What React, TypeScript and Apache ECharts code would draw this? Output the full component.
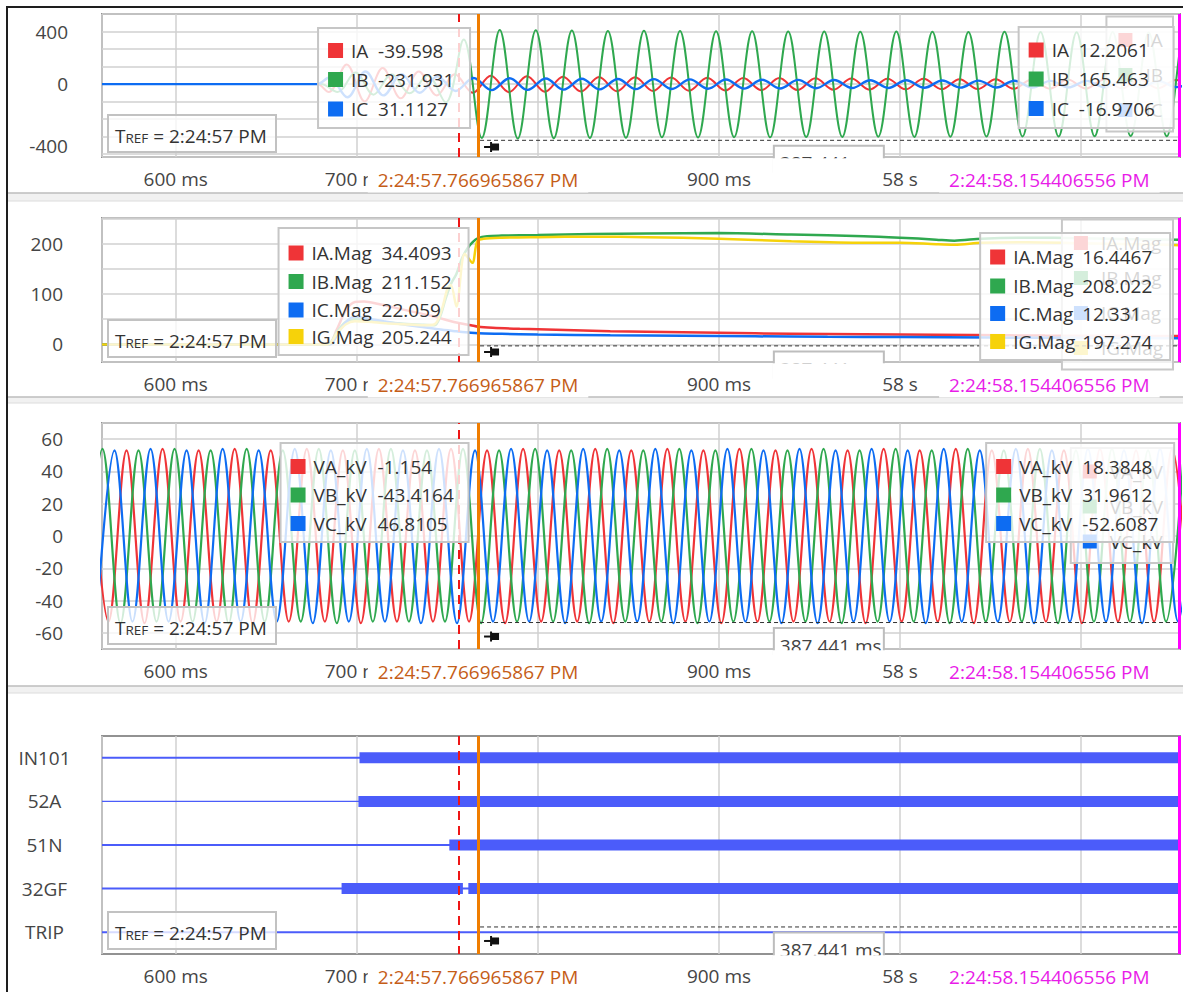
import React, { useEffect, useRef } from 'react';
import * as echarts from 'echarts';

// ---------------- time axis (ms after 2:24:57 PM) ----------------
const X_MIN = 559.3;
const X_MAX = 1154.6;
const X_TICK_VALUES = [600, 700, 800, 900, 1000, 1100];
// 800 ms and 1100 ms are hidden under the cursor time labels in the reference
const X_TICK_LABELS = ['600 ms', '700 ms', '', '900 ms', '58 s', ''];

// cursors
const CURSOR_RED_MS = 756.4;
const CURSOR_ORANGE_MS = 766.966;
const CURSOR_MAGENTA_MS = 1154.406;
const CURSOR_ORANGE_LABEL = '2:24:57.766965867 PM';
const CURSOR_MAGENTA_LABEL = '2:24:58.154406556 PM';
const DELTA_LABEL = '387.441 ms';
const TREF_TIME = '2:24:57 PM';
// level (in each panel's units) of the dashed measurement line
const MEASURE_LEVELS = [-428, -3, -53.6, 3.88];

// ---------------- y axes ----------------
const Y1_TICK_VALUES = [400, 0, -400];
const Y1_TICK_LABELS = ['400', '0', '-400'];
const Y2_TICK_VALUES = [200, 100, 0];
const Y2_TICK_LABELS = ['200', '100', '0'];
const Y3_TICK_VALUES = [60, 40, 20, 0, -20, -40, -60];
const Y3_TICK_LABELS = ['60', '40', '20', '0', '-20', '-40', '-60'];
const DIGITAL_NAMES = ['IN101', '52A', '51N', '32GF', 'TRIP'];

// ---------------- waveforms: successive half-cycle extrema ----------------
const HALF_CYCLE_MS = 9.955;

// currents (A) – start of conduction, first extremum time, extrema values
const IA_START = 678;
const IA_T0 = 684.46;
const IA_EXT = [
  -60, 150, -132, 122, -108, 96, -86, 76, -66, 63,
  -61, 60, -58, 57, -56, 55, -54, 53, -52, 51,
  -50, 49, -48, 47, -46, 46, -45, 44, -43, 43,
  -42, 41, -40, 40, -39, 38, -38, 37, -36, 36,
  -35, 35, -34, 34, -33, 33, -32, 32, -31,
];
const IB_START = 680;
const IB_T0 = 689.35;
const IB_EXT = [
  -60, 88, -80, 75, -70, 65, -140, 340, -410, 412,
  -415, 410, -412, 408, -410, 405, -408, 406, -405, 404,
  -407, 403, -404, 402, -405, 400, -403, 401, -402, 399,
  -400, 400, -402, 398, -400, 397, -399, 398, -398, 396,
  -399, 395, -397, 396, -396, 394, -397, 395, -395,
];
const IC_START = 678;
const IC_T0 = 684.86;
const IC_EXT = [
  50, -100, 96, -86, 76, -66, 58, -52, 47, -46,
  45, -44, 43, -42, 41, -40, 39, -38, 38, -37,
  36, -35, 35, -34, 33, -33, 32, -31, 31, -30,
  30, -29, 29, -28, 28, -27, 27, -26, 26, -26,
  25, -25, 25, -24, 24, -24, 23, -23, 23,
];

// voltages (kV)
const VA_T0 = 552.93;
const VA_EXT = [
  54, -53, 53, -54, 54, -53, 53, -53, 54, -54, 53, -53, 54, -53, 53, -54, 54, -53, 53, -53,
  54, -53, 53, -54, 54, -53, 53, -53, 54, -54, 53, -53, 54, -53, 53, -54, 54, -53, 53, -53,
  54, -53, 53, -54, 54, -53, 53, -53, 54, -54, 53, -53, 54, -53, 53, -54, 54, -53, 53, -53,
  54, -53,
];
const VB_T0 = 549.6;
const VB_EXT = [
  -53, 54, -54, 53, -53, 54, -53, 53, -54, 54, -53, 53, -53, 54, -54, 53, -53, 54, -53, 53,
  -53, 54, -54, 53, -53, 54, -53, 53, -54, 54, -53, 53, -53, 54, -54, 53, -53, 54, -53, 53,
  -53, 54, -54, 53, -53, 54, -53, 53, -54, 54, -53, 53, -53, 54, -54, 53, -53, 54, -53, 53,
  -53, 54,
];
const VC_T0 = 556.24;
const VC_EXT = [
  -54, 53, -53, 54, -53, 53, -54, 54, -53, 53, -53, 54, -54, 53, -53, 54, -53, 53, -54, 54,
  -54, 53, -53, 54, -53, 53, -54, 54, -53, 53, -53, 54, -54, 53, -53, 54, -53, 53, -54, 54,
  -54, 53, -53, 54, -53, 53, -54, 54, -53, 53, -53, 54, -54, 53, -53, 54, -53, 53, -54, 54,
  -53, 53,
];

// ---------------- magnitudes (A) ----------------
const IA_MAG = [
  [559.3, 0], [684, 0], [689, 30], [694, 68], [699, 84], [704, 85], [712, 80], [722, 72], [732, 64],
  [742, 56], [750, 48], [757, 42], [763, 38], [767, 35], [775, 33], [790, 31], [810, 29], [840, 26],
  [880, 24], [920, 22], [960, 20.5], [1000, 19.5], [1040, 18.5], [1080, 17.5], [1120, 17], [1154.6, 16.4],
];
const IB_MAG = [
  [559.3, 0], [684, 0], [689, 25], [694, 45], [699, 50], [706, 48], [716, 44], [726, 41], [736, 39],
  [743, 38], [746, 55], [749, 90], [752, 120], [755, 140], [758, 170], [761, 190], [764, 203], [767, 211],
  [772, 215], [780, 216], [800, 217], [830, 219], [860, 220], [900, 221], [940, 218], [980, 215],
  [1000, 212], [1020, 208], [1030, 206], [1045, 210], [1070, 212], [1100, 211], [1130, 209], [1154.6, 208],
];
const IC_MAG = [
  [559.3, 0], [685, 0], [690, 25], [695, 48], [699, 55], [705, 52], [715, 46], [725, 40], [735, 35],
  [745, 30], [755, 26], [763, 23], [767, 22], [780, 21], [800, 19.5], [840, 18], [880, 17], [920, 16],
  [960, 15], [1000, 14.5], [1050, 13.5], [1100, 13], [1154.6, 12.3],
];
const IG_MAG = [
  [559.3, 0], [684, 0], [689, 22], [694, 40], [699, 46], [706, 45], [716, 42], [726, 40], [736, 38],
  [743, 40], [747, 70], [750, 110], [752, 118], [755, 75], [759.6, 180], [763.8, 162], [766.5, 205],
  [770, 210], [780, 212], [800, 213], [830, 214], [860, 213], [900, 210], [940, 205], [980, 202],
  [1000, 202], [1020, 199], [1030, 198], [1045, 202], [1070, 203], [1100, 201], [1130, 199], [1154.6, 197],
];

// ---------------- digital channels: asserted intervals (ms) ----------------
const IN101_ON = [[701.5, 1154.6]];
const A52_ON = [[700.9, 1154.6]];
const N51_ON = [[751.1, 1154.6]];
const GF32_ON = [[691.6, 758.6], [761.6, 1154.6]];
const TRIP_ON: number[][] = [];

// ---------------- cursor read-outs ----------------
const P1_NAMES = ['IA', 'IB', 'IC'];
const P1_LEFT_VALUES = ['-39.598', '-231.931', '31.1127'];
const P1_RIGHT_VALUES = ['12.2061', '165.463', '-16.9706'];
const P2_NAMES = ['IA.Mag', 'IB.Mag', 'IC.Mag', 'IG.Mag'];
const P2_LEFT_VALUES = ['34.4093', '211.152', '22.059', '205.244'];
const P2_RIGHT_VALUES = ['16.4467', '208.022', '12.331', '197.274'];
const P3_NAMES = ['VA_kV', 'VB_kV', 'VC_kV'];
const P3_LEFT_VALUES = ['-1.154', '-43.4164', '46.8105'];
const P3_RIGHT_VALUES = ['18.3848', '31.9612', '-52.6087'];

// ---------------- styling ----------------
const FONT = '"Open Sans", "Noto Sans", sans-serif';
const RED = '#ef3437';
const GREEN = '#2fa84f';
const BLUE = '#0d6cf2';
const YELLOW = '#f6d20a';
const DIGI = '#4b5cfa';
const GRID_LEFT = 102;
const GRID_WIDTH = 1079;
const GRIDS = [
  { top: 14, height: 143 },
  { top: 218, height: 144 },
  { top: 423, height: 226 },
  { top: 736, height: 218 },
];
const SEPARATORS = [[193, 201], [397, 403], [686, 693]];

function fmtFrom(ticks: number[], labels: string[]) {
  return (v: number) => {
    const i = ticks.findIndex((t) => Math.abs(t - v) < 1e-6);
    return i >= 0 ? labels[i] : '';
  };
}

function wave(start: number | null, t0: number, ext: number[]) {
  const pts: number[][] = [];
  if (start != null) {
    pts.push([X_MIN, 0]);
    pts.push([start, 0]);
  }
  ext.forEach((v, k) => pts.push([t0 + k * HALF_CYCLE_MS, v]));
  return pts;
}

const cursorMarkLine = {
  silent: true,
  symbol: ['none', 'none'],
  label: { show: false },
  animation: false,
  data: [
    { xAxis: CURSOR_RED_MS, lineStyle: { color: '#ee1616', width: 2, type: [9, 6] } },
    { xAxis: CURSOR_ORANGE_MS, lineStyle: { color: '#f07d00', width: 3, type: 'solid' } },
    { xAxis: CURSOR_MAGENTA_MS, lineStyle: { color: '#ff00ff', width: 3, type: 'solid' } },
  ],
};

function lineSeries(name: string, grid: number, data: any[], color: string, width: number, smooth: number, withCursors = false) {
  const s: any = {
    name,
    type: 'line',
    xAxisIndex: grid,
    yAxisIndex: grid,
    data,
    showSymbol: false,
    symbol: 'none',
    smooth,
    color,
    itemStyle: { color },
    lineStyle: { color, width },
    emphasis: { disabled: true },
    silent: true,
    animation: false,
  };
  if (withCursors) s.markLine = cursorMarkLine;
  return s;
}

function buildOption() {
  const axisLabelBase = { fontSize: 19, color: '#454545', fontFamily: FONT };
  const xAxis = GRIDS.map((_, i) => ({
    type: 'value',
    gridIndex: i,
    min: X_MIN,
    max: X_MAX,
    minInterval: 100,
    maxInterval: 100,
    splitNumber: 6,
    axisLine: { show: false },
    axisTick: { show: false },
    splitLine: { show: true, lineStyle: { color: '#d0d0d0', width: 1.5 } },
    axisLabel: { ...axisLabelBase, margin: 12, formatter: fmtFrom(X_TICK_VALUES, X_TICK_LABELS) },
  }));
  const ySplit = { show: true, lineStyle: { color: '#d0d0d0', width: 1.5 } };
  const yAxis = [
    {
      type: 'value', gridIndex: 0, min: -555, max: 534, minInterval: 400 / 3, maxInterval: 400 / 3, splitNumber: 8,
      axisLine: { show: false }, axisTick: { show: false }, splitLine: ySplit,
      axisLabel: {
        ...axisLabelBase, margin: 34,
        formatter: (v: number) => {
          const s = fmtFrom(Y1_TICK_VALUES, Y1_TICK_LABELS)(v);
          return v < -1 && s ? '{low|' + s + '}' : s;
        },
        rich: { low: { ...axisLabelBase, padding: [18, 0, 0, 0] } },
      },
    },
    {
      type: 'value', gridIndex: 1, min: -35, max: 251, minInterval: 50, maxInterval: 50, splitNumber: 6,
      axisLine: { show: false }, axisTick: { show: false }, splitLine: ySplit,
      axisLabel: { ...axisLabelBase, margin: 39, formatter: fmtFrom(Y2_TICK_VALUES, Y2_TICK_LABELS) },
    },
    {
      type: 'value', gridIndex: 2, min: -70, max: 70, minInterval: 20, maxInterval: 20, splitNumber: 7,
      axisLine: { show: false }, axisTick: { show: false }, splitLine: ySplit,
      axisLabel: { ...axisLabelBase, margin: 39, formatter: fmtFrom(Y3_TICK_VALUES, Y3_TICK_LABELS) },
    },
    {
      type: 'value', gridIndex: 3, min: -0.5, max: 4.5, minInterval: 1, maxInterval: 1, splitNumber: 5, inverse: true,
      axisLine: { show: false }, axisTick: { show: false }, splitLine: { show: false },
      axisLabel: {
        ...axisLabelBase, margin: 57.5, align: 'center',
        formatter: fmtFrom(DIGITAL_NAMES.map((_, i) => i), DIGITAL_NAMES),
      },
    },
  ];

  const series: any[] = [
    lineSeries('IA', 0, wave(IA_START, IA_T0, IA_EXT), RED, 2, 0.36, true),
    lineSeries('IB', 0, wave(IB_START, IB_T0, IB_EXT), GREEN, 2, 0.36),
    lineSeries('IC', 0, wave(IC_START, IC_T0, IC_EXT), BLUE, 2.4, 0.36),
    lineSeries('IA.Mag', 1, IA_MAG, RED, 2.5, 0.3, true),
    lineSeries('IB.Mag', 1, IB_MAG, GREEN, 2.5, 0.3),
    lineSeries('IC.Mag', 1, IC_MAG, BLUE, 2.5, 0.3),
    lineSeries('IG.Mag', 1, IG_MAG, YELLOW, 2.5, 0.3),
    lineSeries('VA_kV', 2, wave(null, VA_T0, VA_EXT), RED, 2.2, 0.36, true),
    lineSeries('VB_kV', 2, wave(null, VB_T0, VB_EXT), GREEN, 2.2, 0.36),
    lineSeries('VC_kV', 2, wave(null, VC_T0, VC_EXT), BLUE, 2.2, 0.36),
  ];
  const digitalOn = [IN101_ON, A52_ON, N51_ON, GF32_ON, TRIP_ON];
  const thinWidths = [2, 1.2, 2, 2, 2];
  DIGITAL_NAMES.forEach((name, row) => {
    series.push(lineSeries(name, 3, [[X_MIN, row], [X_MAX, row]], DIGI, thinWidths[row], 0, row === 0));
    digitalOn[row].forEach(([a, b], k) => {
      series.push(lineSeries(name + ' on ' + k, 3, [[a, row], [b, row]], DIGI, 11, 0));
    });
  });

  const legendBase = {
    orient: 'vertical',
    right: 10,
    icon: 'rect',
    itemWidth: 14,
    itemHeight: 14,
    itemGap: 16,
    selectedMode: false,
    backgroundColor: 'rgba(255,255,255,0.75)',
    borderColor: '#c8c8c8',
    borderWidth: 2,
    padding: [14, 10, 12, 12],
    textStyle: { fontSize: 19, color: '#333', fontFamily: FONT, padding: [0, 0, 0, 8] },
    z: 4,
  };

  return {
    animation: false,
    backgroundColor: '#ffffff',
    textStyle: { fontFamily: FONT },
    grid: GRIDS.map((g) => ({
      left: GRID_LEFT, top: g.top, width: GRID_WIDTH, height: g.height,
      show: true, borderColor: '#929292', borderWidth: 2, backgroundColor: 'transparent',
    })),
    legend: [
      { ...legendBase, top: 16.5, data: P1_NAMES },
      { ...legendBase, top: 219.5, data: P2_NAMES },
      { ...legendBase, top: 448, data: P3_NAMES },
    ],
    xAxis,
    yAxis,
    series,
  };
}

function withZ(el: any, z: number): any {
  el.z = z;
  if (el.children) el.children.forEach((c: any) => withZ(c, z));
  return el;
}

function readoutBox(x: number, y: number, w: number, h: number, names: string[], values: string[], colors: string[], rows: number[], valueX: number) {
  const children: any[] = [
    { type: 'rect', shape: { x: 0, y: 0, width: w, height: h }, style: { fill: 'rgba(255,255,255,0.8)', stroke: '#c6c6c6', lineWidth: 2 } },
  ];
  names.forEach((n, i) => {
    const ry = rows[i];
    children.push({ type: 'rect', shape: { x: 10, y: ry - 7.5, width: 15, height: 15 }, style: { fill: colors[i] } });
    children.push({ type: 'text', x: 33, y: ry, style: { text: n, fill: '#333', fontSize: 19, fontFamily: FONT, verticalAlign: 'middle', align: 'left' } });
    children.push({ type: 'text', x: valueX, y: ry, style: { text: values[i], fill: '#333', fontSize: 19, fontFamily: FONT, verticalAlign: 'middle', align: 'left' } });
  });
  return { type: 'group', x, y, children };
}

function buildGraphic(chart: any) {
  const els: any[] = [];
  // outer frame
  els.push(withZ({ type: 'line', shape: { x1: 7, y1: 6, x2: 7, y2: 992 }, style: { stroke: '#1e1e1e', lineWidth: 2 } }, 100));
  els.push(withZ({ type: 'line', shape: { x1: 6, y1: 7, x2: 1183, y2: 7 }, style: { stroke: '#1e1e1e', lineWidth: 2 } }, 100));
  SEPARATORS.forEach(([a, b]) => {
    els.push(withZ({ type: 'rect', shape: { x: 8, y: a, width: 1175, height: b - a }, style: { fill: '#f1f1f1' } }, 100));
    els.push(withZ({ type: 'line', shape: { x1: 8, y1: a, x2: 1183, y2: a }, style: { stroke: '#bcbcbc', lineWidth: 1.5 } }, 100));
    els.push(withZ({ type: 'line', shape: { x1: 8, y1: b, x2: 1183, y2: b }, style: { stroke: '#dcdcdc', lineWidth: 1 } }, 100));
  });

  const px = (p: number, t: number, v: number) => chart.convertToPixel({ gridIndex: p }, [t, v]) as number[];
  const oX = px(0, CURSOR_ORANGE_MS, 0)[0];
  const mX = px(0, CURSOR_MAGENTA_MS, 0)[0];
  const plotRight = GRID_LEFT + GRID_WIDTH;

  GRIDS.forEach((g, p) => {
    const bottom = g.top + g.height;
    // T_REF box
    els.push(withZ({
      type: 'group', x: 108, y: bottom - 42,
      children: [
        { type: 'rect', shape: { x: 0, y: 0, width: 168, height: 37 }, style: { fill: 'rgba(255,255,255,0.78)', stroke: '#c2c2c2', lineWidth: 2 } },
        {
          type: 'text', x: 7, y: 19,
          style: {
            text: '{t|T}{r|REF}{t| = ' + TREF_TIME + '}',
            verticalAlign: 'middle',
            rich: {
              t: { fontSize: 19, fontFamily: FONT, fill: '#333', lineHeight: 22, verticalAlign: 'bottom' },
              r: { fontSize: 13.5, fontFamily: FONT, fill: '#333', lineHeight: 22, verticalAlign: 'bottom' },
            },
          },
        },
      ],
    }, 110));

    // dashed measurement line + pin + delta box (clipped at the plot bottom)
    const dy = px(p, CURSOR_ORANGE_MS, MEASURE_LEVELS[p])[1];
    els.push(withZ({ type: 'line', shape: { x1: oX + 2, y1: dy, x2: plotRight - 1, y2: dy }, style: { stroke: '#333', lineWidth: 1, lineDash: [4, 3] } }, 101));
    const pinY = Math.min(dy + 14, bottom - 10);
    els.push(withZ({
      type: 'group', x: oX + 6, y: pinY,
      children: [
        { type: 'line', shape: { x1: 0, y1: 0, x2: 7, y2: 0 }, style: { stroke: '#111', lineWidth: 2 } },
        { type: 'rect', shape: { x: 7, y: -3.5, width: 8, height: 7 }, style: { fill: '#111' } },
        { type: 'line', shape: { x1: 7, y1: -5, x2: 7, y2: 5 }, style: { stroke: '#111', lineWidth: 2 } },
      ],
    }, 101));
    const cx = (oX + mX) / 2;
    const bw = 110;
    const bh = 26;
    const bTop = dy + 5.5;
    els.push(withZ({
      type: 'group', x: cx - bw / 2, y: bTop,
      children: [
        { type: 'rect', shape: { x: 0, y: 0, width: bw, height: bh }, style: { fill: '#fff', stroke: '#bdbdbd', lineWidth: 2 } },
        { type: 'text', x: 6, y: 8, style: { text: DELTA_LABEL, fill: '#444', fontSize: 19, fontFamily: FONT, verticalAlign: 'top' } },
      ],
    }, 102));
    const coverTop = bottom + 1.2;
    const coverH = Math.max(0, bTop + bh + 1.5 - coverTop);
    if (coverH > 0) {
      els.push(withZ({ type: 'rect', shape: { x: cx - bw / 2 - 1.5, y: coverTop, width: bw + 3, height: coverH }, style: { fill: '#fff' } }, 103));
    }

    // cursor time labels
    els.push(withZ({
      type: 'text', x: oX, y: bottom + 23,
      style: { text: CURSOR_ORANGE_LABEL, fill: '#c55d17', fontSize: 19, fontFamily: FONT, align: 'center', verticalAlign: 'middle', backgroundColor: '#fff', padding: [3, 10] },
    }, 120));
    els.push(withZ({
      type: 'text', x: mX - 20, y: bottom + 23,
      style: { text: CURSOR_MAGENTA_LABEL, fill: '#e81ce8', fontSize: 19, fontFamily: FONT, align: 'right', verticalAlign: 'middle', backgroundColor: '#fff', padding: [3, 10] },
    }, 120));
  });

  // read-out boxes at the orange (left) and magenta (right) cursors
  const c3 = [RED, GREEN, BLUE];
  const c4 = [RED, GREEN, BLUE, YELLOW];
  els.push(withZ(readoutBox(oX - 8 - 152, 28, 152, 100, P1_NAMES, P1_LEFT_VALUES, c3, [22.5, 51.5, 81], 60), 130));
  els.push(withZ(readoutBox(mX - 6 - 155, 27, 155, 101, P1_NAMES, P1_RIGHT_VALUES, c3, [23, 52, 81.5], 60), 130));
  els.push(withZ(readoutBox(oX - 9.5 - 190, 228, 190, 127, P2_NAMES, P2_LEFT_VALUES, c4, [25, 53.5, 82, 108.5], 103), 130));
  els.push(withZ(readoutBox(mX - 9.5 - 190, 233, 190, 127, P2_NAMES, P2_RIGHT_VALUES, c4, [24, 53, 80.5, 108.5], 102), 130));
  els.push(withZ(readoutBox(oX - 9.5 - 188, 443, 188, 99, P3_NAMES, P3_LEFT_VALUES, c3, [23.5, 52, 80.5], 97), 130));
  els.push(withZ(readoutBox(mX - 5.5 - 188, 443, 188, 99, P3_NAMES, P3_RIGHT_VALUES, c3, [23.5, 52, 80.5], 96), 130));
  return els;
}

export default function App() {
  const ref = useRef<HTMLDivElement>(null);
  useEffect(() => {
    const el = ref.current;
    if (!el) return;
    const chart = echarts.init(el, undefined, { renderer: 'svg' });
    chart.setOption(buildOption() as any);
    chart.setOption({ graphic: buildGraphic(chart) } as any);
    return () => chart.dispose();
  }, []);
  return (
    <div
      ref={ref}
      style={{ position: 'absolute', left: 0, top: 0, width: 1183, height: 992, background: '#fff' }}
    />
  );
}
